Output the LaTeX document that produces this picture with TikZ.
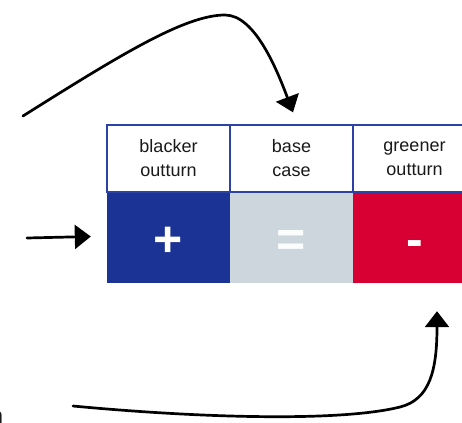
\documentclass[tikz,border=0pt]{standalone}
\usepackage{fontspec}
\setmainfont{Liberation Sans}
\usetikzlibrary{arrows.meta,calc}

\definecolor{tblblue}{RGB}{27,51,148}
\definecolor{tblgrey}{RGB}{206,214,221}
\definecolor{tblred}{RGB}{216,0,50}
\definecolor{rulecol}{RGB}{45,66,165}
\definecolor{txtcol}{RGB}{25,25,25}

\tikzset{
  headcell/.style={draw=rulecol, line width=1.3pt, fill=white,
    minimum width=123pt, minimum height=67pt, inner sep=0pt,
    align=center, text=txtcol,
    font=\fontsize{18}{24}\selectfont},
  signcell/.style={minimum width=123pt, minimum height=91pt, inner sep=0pt, draw=none},
  sign/.style={anchor=base, inner sep=0pt, text=white,
    font=\fontsize{50}{50}\selectfont\bfseries},
  flow/.style={line width=2.7pt, line cap=round,
    -{Triangle[length=16pt,width=24pt]}},
}

\begin{document}
\begin{tikzpicture}[x=1pt,y=-1pt]
  \useasboundingbox (0,0) rectangle (462,422);

  % coloured row of signs
  \node[signcell, fill=tblblue] (blue) at (168.5,237.5) {};
  \node[signcell, fill=tblgrey] (grey) at (291.5,237.5) {};
  \node[signcell, fill=tblred]  (red)  at (414.5,237.5) {};

  % heading row
  \node[headcell] (black) at (168.5,158.5) {blacker\\outturn};
  \node[headcell] (base)  at (291.5,158.5) {base\\case};
  \node[headcell] (green) at (414.5,158.5) {greener\\outturn};

  % the signs themselves, on one common baseline
  \node[sign] (plus)  at ($(blue.center)+(0,18.5)$) {+};
  \node[sign, text=white!92!tblgrey] (equal) at ($(grey.center)+(0,18.5)$) {=};
  \node[sign] (minus) at ($(red.center)+(0,18.5)$) {-};

  % clipped word ending at the lower left
  \node[anchor=base east, inner sep=0pt, text=txtcol,
        font=\fontsize{24}{24}\selectfont] (tail) at (3.5,424) {n};

  % free ends and tips of the arrows
  \coordinate (a1) at (23,116);
  \coordinate (t1) at ($(base.north)+(1.5,-12)$);
  \coordinate (a2) at (27,238);
  \coordinate (t2) at ($(blue.west)+(-16,-1)$);
  \coordinate (a3) at (73,406);
  \coordinate (t3) at ($(red.south)+(22.5,28)$);

  \draw[flow] (a1) .. controls (120,55) and (185,15) .. (225,15)
                   .. controls (255,15) and (277,70) .. (t1);
  \draw[flow] (a2) -- (t2);
  \draw[flow] (a3) .. controls (200,418) and (340,422) .. (400,407)
                   .. controls (430,399.5) and (437,370) .. (t3);
\end{tikzpicture}
\end{document}
